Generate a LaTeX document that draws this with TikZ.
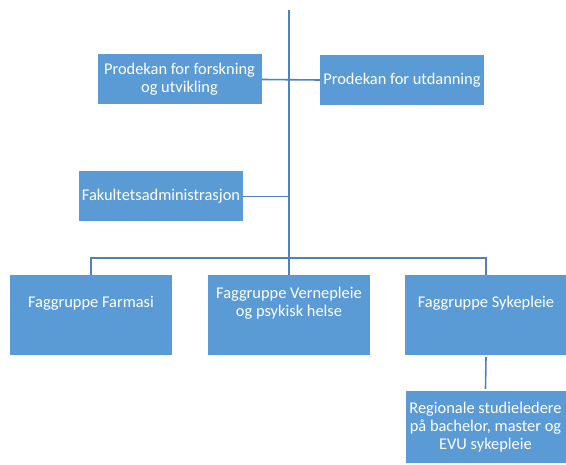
\documentclass[tikz,border=0pt]{standalone}
\usepackage{fontspec}
\setmainfont{Carlito}
\usetikzlibrary{calc}

\definecolor{boxblue}{RGB}{91,155,213}
\definecolor{lineblue}{RGB}{79,129,189}

\tikzset{%
		every unit/.style={
			rectangle,
			fill=boxblue,
			draw=none,
			inner sep=1pt,
			minimum width=164pt,
			text=white,
			align=center,
			font=\fontsize{16.4}{18}\selectfont
		},
		unit small/.style={
			minimum height=50pt
		},
		unit tall/.style={
			minimum height=80pt
		},
		unit text/.style={
			text=white,
			align=center,
			inner sep=0pt,
			font=\fontsize{16.4}{18}\selectfont
		},
		link/.style={
			draw=lineblue,
			line width=1.6pt
		},
	}

\begin{document}
\begin{tikzpicture}[x=1pt, y=-1pt]
			\useasboundingbox (0,0) rectangle (566,465);
			
			% the trunk from the top
			\coordinate (top) at (289,10);
			\coordinate (bus) at (289,258);
			
			% draw the prodekan and administration units
			\node [every unit, unit small] (forsk) at (179.5,79.5) {Prodekan for forskning\\og utvikling};
			\node [every unit, unit small] (utd) at (402,80) {Prodekan for utdanning};
			\node [every unit, unit small] (admin) at (161,196.5) {Fakultetsadministrasjon};
			
			% draw the faggruppe units
			\foreach \m/\x in {farm/91,vern/289,syk/486}
			\node [every unit, unit tall, minimum width=162pt] (\m) at (\x,315) {};
			
			% text of the faggruppe units
			\foreach \m/\l in {farm/{Faggruppe Farmasi},vern/{Faggruppe Vernepleie\\og psykisk helse},syk/{Faggruppe Sykepleie}}
			\node [unit text] (\m-text) at ($(\m.north)+(0,28)$) {\l};
			
			% the regional unit below sykepleie
			\node [every unit, minimum width=160pt, minimum height=72pt] (reg) at (485.5,427) {Regionale studieledere\\på bachelor, master og\\EVU sykepleie};
			
			% draw the connectors
			\draw [link] (top) -- (bus);
			\draw [link] (forsk.east) -- (utd.west);
			\draw [link] (admin.east) -- (admin.east -| top);
			\draw [link] (farm.north) |- (bus) -| (syk.north);
			\draw [link] (bus) -- (vern.north);
			\draw [link] ([yshift=-2pt]syk.south) -- ([yshift=2pt]reg.north);
\end{tikzpicture}
\end{document}
